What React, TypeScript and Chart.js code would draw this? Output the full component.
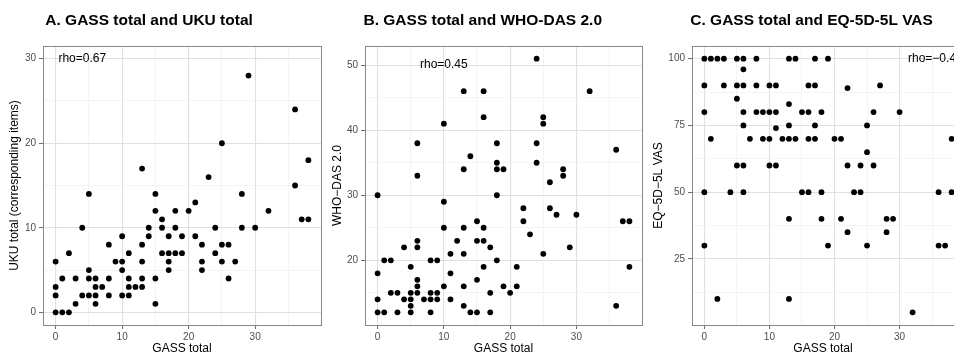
import React, { useEffect, useRef } from "react";
import { Chart, registerables } from "chart.js";

Chart.register(...registerables);

const FONT = '"Liberation Sans", Arial, Helvetica, sans-serif';

// shared x axis (GASS total)
const xTickValues = [0, 5, 10, 15, 20, 25, 30, 35];
const xTickLabels = [0, 10, 20, 30];
const xMin = -1.9;
const xMax = 39.9;

// Panel A: GASS total vs UKU total
const gassA = [0, 0, 0, 0, 1, 1, 2, 2, 3, 3, 4, 4, 5, 5, 5, 5, 6, 6, 6, 6, 7, 8, 8, 8, 9, 10, 10, 10, 10, 11, 11, 11, 11, 12, 13, 13, 13, 13, 13, 14, 14, 15, 15, 15, 15, 16, 16, 16, 17, 17, 17, 17, 18, 18, 18, 19, 19, 20, 21, 21, 22, 22, 22, 23, 25, 24, 24, 25, 25, 26, 26, 27, 29, 28, 28, 30, 32, 36, 36, 38, 37, 38];
const ukuA = [6, 3, 2, 0, 4, 0, 7, 0, 4, 1, 10, 2, 14, 5, 4, 2, 4, 3, 2, 1, 3, 8, 4, 2, 6, 9, 6, 5, 2, 7, 4, 3, 2, 3, 17, 8, 6, 4, 3, 10, 9, 14, 12, 4, 1, 11, 10, 7, 9, 7, 6, 5, 12, 10, 7, 9, 7, 12, 13, 9, 8, 6, 5, 16, 20, 10, 7, 8, 6, 8, 4, 6, 28, 14, 10, 10, 12, 24, 15, 18, 11, 11];
const yTicksA = [0, 5, 10, 15, 20, 25, 30];
const yLabelsA = [0, 10, 20, 30];

// Panel B: GASS total vs WHO-DAS 2.0
const gassB = [24, 13, 16, 32, 16, 10, 25, 25, 6, 18, 24, 36, 14, 18, 24, 13, 18, 19, 28, 28, 6, 26, 0, 10, 22, 26, 27, 30, 22, 15, 37, 38, 10, 13, 16, 23, 12, 6, 15, 16, 4, 6, 17, 29, 11, 13, 25, 1, 2, 8, 9, 18, 5, 16, 21, 38, 0, 11, 6, 15, 6, 10, 13, 19, 21, 2, 3, 5, 6, 8, 9, 17, 20, 0, 4, 5, 7, 8, 9, 11, 5, 13, 36, 0, 1, 3, 5, 8, 14, 15, 17, 18];
const whodasB = [51, 46, 46, 46, 42, 41, 42, 41, 38, 38, 38, 37, 36, 35, 35, 34, 34, 34, 34, 33, 33, 32, 30, 29, 28, 28, 27, 27, 26, 26, 26, 26, 25, 25, 25, 24, 23, 23, 23, 23, 22, 22, 22, 22, 21, 21, 21, 20, 20, 20, 20, 20, 19, 19, 19, 19, 18, 18, 17, 17, 16, 16, 16, 16, 16, 15, 15, 15, 15, 15, 15, 15, 15, 14, 14, 14, 14, 14, 14, 14, 13, 13, 13, 12, 12, 12, 12, 12, 12, 12, 12, 30];
const yTicksB = [15, 20, 25, 30, 35, 40, 45, 50];
const yLabelsB = [20, 30, 40, 50];

// Panel C: GASS total vs EQ-5D-5L VAS
const gassC = [0, 1, 2, 3, 5, 6, 8, 13, 14, 17, 19, 6, 0, 3, 5, 6, 8, 10, 11, 16, 17, 27, 22, 5, 13, 0, 6, 8, 9, 10, 11, 15, 16, 18, 26, 30, 6, 13, 17, 25, 11, 1, 7, 9, 10, 12, 13, 14, 16, 17, 20, 21, 38, 25, 5, 6, 10, 11, 22, 24, 26, 0, 4, 6, 15, 16, 18, 23, 24, 36, 38, 13, 18, 21, 28, 29, 22, 28, 0, 19, 25, 36, 37, 2, 13, 32];
const vasC = [100, 100, 100, 100, 100, 100, 100, 100, 100, 100, 100, 96, 90, 90, 90, 90, 90, 90, 90, 90, 90, 90, 89, 85, 83, 80, 80, 80, 80, 80, 80, 80, 80, 80, 80, 80, 75, 75, 75, 75, 74, 70, 70, 70, 70, 70, 70, 70, 70, 70, 70, 70, 70, 65, 60, 60, 60, 60, 60, 60, 60, 50, 50, 50, 50, 50, 50, 50, 50, 50, 50, 40, 40, 40, 40, 40, 35, 35, 30, 30, 30, 30, 30, 10, 10, 5];
const yTicksC = [12.5, 25, 37.5, 50, 62.5, 75, 87.5, 100];
const yLabelsC = [25, 50, 75, 100];

const panelDecor = {
  id: "panelDecor",
  afterDraw(chart: any, _args: any, o: any) {
    const { ctx, chartArea: a, scales } = chart;
    ctx.save();
    // rho annotation (clipped to panel)
    ctx.save();
    ctx.beginPath();
    ctx.rect(a.left, a.top, a.right - a.left, a.bottom - a.top);
    ctx.clip();
    ctx.fillStyle = "#000";
    ctx.font = `12px ${FONT}`;
    ctx.textAlign = "center";
    ctx.textBaseline = "middle";
    ctx.fillText(o.rho, scales.x.getPixelForValue(o.rhoX), scales.y.getPixelForValue(o.rhoY));
    ctx.restore();
    // panel border
    ctx.strokeStyle = "#888";
    ctx.lineWidth = 1;
    ctx.strokeRect(Math.round(a.left) + 0.5, Math.round(a.top) + 0.5, Math.round(a.right - a.left), Math.round(a.bottom - a.top));
    // plot title
    ctx.fillStyle = "#000";
    ctx.font = `bold 15.5px ${FONT}`;
    ctx.textAlign = "left";
    ctx.textBaseline = "alphabetic";
    ctx.fillText(o.title, a.left + o.titleDx, 25);
    // x axis title
    ctx.font = `12px ${FONT}`;
    ctx.textAlign = "center";
    ctx.fillText(o.xTitle, (a.left + a.right) / 2 + o.xTitleDx, 352);
    // y axis title
    ctx.translate(a.left + o.yTitleDx, (a.top + a.bottom) / 2);
    ctx.rotate(-Math.PI / 2);
    ctx.textBaseline = "middle";
    ctx.fillText(o.yTitle, 0, 0);
    ctx.restore();
  },
};

type PanelProps = {
  left: number;
  width: number;
  yAxisWidth: number;
  padRight: number;
  xs: number[];
  ys: number[];
  yMin: number;
  yMax: number;
  yTicks: number[];
  yLabels: number[];
  title: string;
  titleDx: number;
  yTitle: string;
  yTitleDx: number;
  xTitleDx: number;
  rho: string;
  rhoX: number;
  rhoY: number;
};

function Panel(p: PanelProps) {
  const ref = useRef<HTMLCanvasElement>(null);
  useEffect(() => {
    if (!ref.current) return;
    const pts = p.xs.map((x, i) => ({ x, y: p.ys[i] }));
    const gridColor = (major: number[]) => (c: any) =>
      c.tick && major.includes(c.tick.value) ? "#e0e0e0" : "#efefef";
    const gridWidth = (major: number[]) => (c: any) =>
      c.tick && major.includes(c.tick.value) ? 1.1 : 0.7;
    const tickColor = (major: number[]) => (c: any) =>
      c.tick && major.includes(c.tick.value) ? "#666" : "rgba(0,0,0,0)";
    const chart = new Chart(ref.current, {
      type: "scatter",
      data: {
        datasets: [
          {
            data: pts,
            backgroundColor: "#000",
            borderWidth: 0,
            pointRadius: 2.9,
            pointHoverRadius: 2.9,
          },
        ],
      },
      options: {
        responsive: false,
        animation: false,
        devicePixelRatio: 1,
        events: [],
        layout: { padding: { left: 0, right: p.padRight, top: 46, bottom: 0 } },
        plugins: {
          legend: { display: false },
          tooltip: { enabled: false },
          title: { display: false },
          panelDecor: {
            title: p.title,
            titleDx: p.titleDx,
            xTitle: "GASS total",
            xTitleDx: p.xTitleDx,
            yTitle: p.yTitle,
            yTitleDx: p.yTitleDx,
            rho: p.rho,
            rhoX: p.rhoX,
            rhoY: p.rhoY,
          },
        } as any,
        scales: {
          x: {
            type: "linear",
            min: xMin,
            max: xMax,
            bounds: "data",
            border: { display: false },
            grid: {
              color: gridColor(xTickLabels),
              lineWidth: gridWidth(xTickLabels),
              tickColor: tickColor(xTickLabels),
              tickLength: 4,
              tickWidth: 1,
            },
            ticks: {
              autoSkip: false,
              maxRotation: 0,
              padding: 2,
              color: "#4d4d4d",
              font: { size: 10, family: FONT },
              callback: (v: any) => (xTickLabels.includes(Number(v)) ? String(v) : ""),
            },
            afterBuildTicks: (s: any) => {
              s.ticks = xTickValues.map((v) => ({ value: v }));
            },
            afterFit: (s: any) => {
              s.height = 31;
            },
          },
          y: {
            type: "linear",
            min: p.yMin,
            max: p.yMax,
            bounds: "data",
            border: { display: false },
            grid: {
              color: gridColor(p.yLabels),
              lineWidth: gridWidth(p.yLabels),
              tickColor: tickColor(p.yLabels),
              tickLength: 4,
              tickWidth: 1,
            },
            ticks: {
              autoSkip: false,
              padding: 3,
              color: "#4d4d4d",
              font: { size: 10, family: FONT },
              callback: (v: any) => (p.yLabels.includes(Number(v)) ? String(v) : ""),
            },
            afterBuildTicks: (s: any) => {
              s.ticks = p.yTicks.map((v) => ({ value: v }));
            },
            afterFit: (s: any) => {
              s.width = p.yAxisWidth;
            },
          },
        },
      } as any,
      plugins: [panelDecor as any],
    });
    return () => chart.destroy();
  }, []);
  return (
    <canvas
      ref={ref}
      width={p.width}
      height={356}
      style={{ position: "absolute", left: p.left, top: 0, width: p.width, height: 356 }}
    />
  );
}

export default function App() {
  return (
    <div
      style={{
        position: "absolute",
        left: 0,
        top: 0,
        width: 954,
        height: 356,
        overflow: "hidden",
        background: "#fff",
      }}
    >
      <Panel
        left={0}
        width={330}
        yAxisWidth={43}
        padRight={9}
        xs={gassA}
        ys={ukuA}
        yMin={-1.5}
        yMax={31.5}
        yTicks={yTicksA}
        yLabels={yLabelsA}
        title="A. GASS total and UKU total"
        titleDx={2.3}
        yTitle="UKU total (corresponding items)"
        yTitleDx={-28.3}
        xTitleDx={0}
        rho="rho=0.67"
        rhoX={4}
        rhoY={30}
      />
      <Panel
        left={322}
        width={330}
        yAxisWidth={43}
        padRight={10}
        xs={gassB}
        ys={whodasB}
        yMin={10.05}
        yMax={52.95}
        yTicks={yTicksB}
        yLabels={yLabelsB}
        title="B. GASS total and WHO-DAS 2.0"
        titleDx={-1.5}
        yTitle="WHO−DAS 2.0"
        yTitleDx={-27}
        xTitleDx={0}
        rho="rho=0.45"
        rhoX={10}
        rhoY={50}
      />
      <Panel
        left={644}
        width={330}
        yAxisWidth={48}
        padRight={10}
        xs={gassC}
        ys={vasC}
        yMin={0.25}
        yMax={104.75}
        yTicks={yTicksC}
        yLabels={yLabelsC}
        title="C. GASS total and EQ-5D-5L VAS"
        titleDx={-1.7}
        yTitle="EQ−5D−5L VAS"
        yTitleDx={-33}
        xTitleDx={-5}
        rho="rho=−0.41"
        rhoX={35.5}
        rhoY={100}
      />
    </div>
  );
}
